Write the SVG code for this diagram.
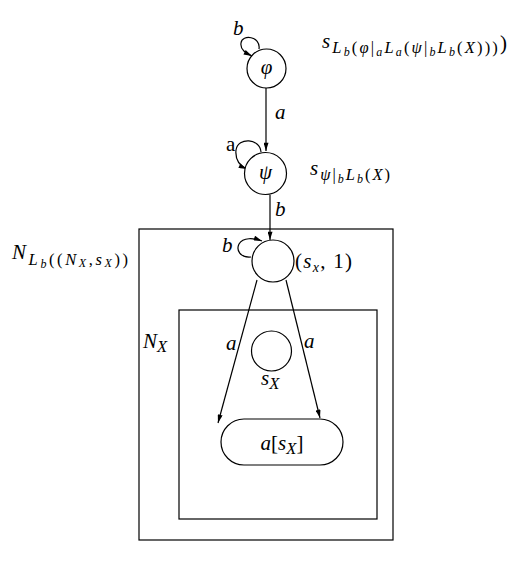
<svg xmlns="http://www.w3.org/2000/svg" width="525" height="562" viewBox="0 0 525 562">
<style>
.ln{fill:none;stroke:#000;stroke-width:1.2}
.st{fill:#fff;stroke:#000;stroke-width:1.2}
text{font-family:"Liberation Serif","DejaVu Serif",serif;fill:#000}
.m{font-style:italic;font-size:21px}
.r{font-size:21px}
.sb{font-style:italic;font-size:16.5px}
.ss{font-style:italic;font-size:12px}
.u{font-style:normal}
</style>
<defs>
<marker id="ar" viewBox="0 0 10 6" refX="10" refY="3" markerWidth="10" markerHeight="5" markerUnits="userSpaceOnUse" orient="auto">
<path d="M0,0 L10,3 L0,6 Z" fill="#000"/>
</marker>
</defs>
<rect width="525" height="562" fill="#fff"/>
<g id="boxes">
<rect id="outer" x="139" y="229" width="254" height="311" class="ln"/>
<rect id="inner" x="179" y="310" width="198" height="209" class="ln"/>
</g>
<g id="connectors">
<path d="M259,49 C261,36 242,34 241,43 C240,50 246,53 252,56" class="ln" marker-end="url(#ar)"/>
<line x1="266" y1="88" x2="266" y2="151" class="ln" marker-end="url(#ar)"/>
<path d="M261,152 C260,138 238,137 236,150 C235,160 240,166 247,169" class="ln" marker-end="url(#ar)"/>
<line x1="270" y1="195" x2="270" y2="240" class="ln" marker-end="url(#ar)"/>
<path d="M251,257 C240,258 236,250 239,244 C243,237 254,238 262,241" class="ln" marker-end="url(#ar)"/>
<line x1="257" y1="280" x2="218" y2="423" class="ln" marker-end="url(#ar)"/>
<line x1="286" y1="280" x2="320" y2="418" class="ln" marker-end="url(#ar)"/>
</g>
<g id="n-phi">
<circle cx="266.5" cy="68.5" r="19.5" class="st"/>
<text x="266.5" y="74" class="m" text-anchor="middle">φ</text>
</g>
<g id="n-psi">
<circle cx="265.5" cy="173.5" r="21" class="st"/>
<text x="265.5" y="179" class="m" text-anchor="middle">ψ</text>
</g>
<g id="n-sx1">
<circle cx="273" cy="261" r="21" class="st"/>
<text x="295" y="268" class="r" textLength="57" lengthAdjust="spacing">(<tspan font-style="italic">s</tspan><tspan font-style="italic" font-size="14px" dy="4">x</tspan><tspan dy="-4">, 1)</tspan></text>
</g>
<g id="n-sX">
<circle cx="271.5" cy="351" r="20" class="st"/>
<text x="261" y="385" class="m">s<tspan class="sb" dy="4">X</tspan></text>
</g>
<g id="n-asX">
<rect x="221" y="419" width="122" height="46" rx="23" ry="23" class="st"/>
<text x="282" y="450" class="r" text-anchor="middle"><tspan font-style="italic">a</tspan>[<tspan font-style="italic">s</tspan><tspan class="sb" dy="4">X</tspan><tspan dy="-4">]</tspan></text>
</g>
<g id="labels">
<text x="233" y="35" class="m">b</text>
<text x="275" y="119" class="m">a</text>
<text x="226" y="151" class="r">a</text>
<text x="275" y="216" class="m">b</text>
<text x="222" y="252" class="m">b</text>
<text x="226" y="350" class="m">a</text>
<text x="304" y="348" class="m">a</text>
<text x="143" y="348" class="m">N<tspan class="sb" dy="4">X</tspan></text>
<text x="12" y="259" class="m" textLength="116" lengthAdjust="spacing">N<tspan class="sb" dy="6">L</tspan><tspan class="ss" dy="3">b</tspan><tspan class="sb u" dy="-3">((</tspan><tspan class="sb">N</tspan><tspan class="ss" dy="2">X</tspan><tspan class="sb u" dy="-2">,</tspan><tspan class="sb">s</tspan><tspan class="ss" dy="2">X</tspan><tspan class="sb u" dy="-2">))</tspan></text>
<text x="310" y="175" class="m" textLength="80" lengthAdjust="spacing">s<tspan class="sb" dy="5">ψ</tspan><tspan class="sb u">|</tspan><tspan class="ss" dy="3">b</tspan><tspan class="sb" dy="-3">L</tspan><tspan class="ss" dy="3">b</tspan><tspan class="sb u" dy="-3">(</tspan><tspan class="sb">X</tspan><tspan class="sb u">)</tspan></text>
<text x="322" y="48" class="m" textLength="185" lengthAdjust="spacing">s<tspan class="sb" dy="5">L</tspan><tspan class="ss" dy="3">b</tspan><tspan class="sb u" dy="-3">(</tspan><tspan class="sb">φ</tspan><tspan class="sb u">|</tspan><tspan class="ss" dy="3">a</tspan><tspan class="sb" dy="-3">L</tspan><tspan class="ss" dy="3">a</tspan><tspan class="sb u" dy="-3">(</tspan><tspan class="sb">ψ</tspan><tspan class="sb u">|</tspan><tspan class="ss" dy="3">b</tspan><tspan class="sb" dy="-3">L</tspan><tspan class="ss" dy="3">b</tspan><tspan class="sb u" dy="-3">(</tspan><tspan class="sb">X</tspan><tspan class="sb u">)))</tspan><tspan class="u" dy="-3">)</tspan></text>
</g>
</svg>
